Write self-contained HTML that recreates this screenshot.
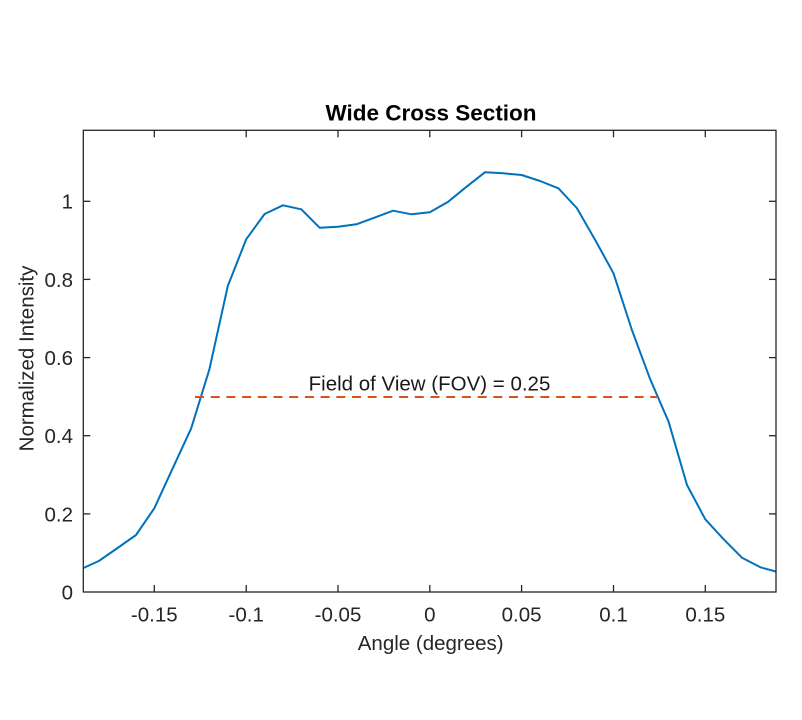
<!DOCTYPE html>
<html>
<head>
<meta charset="utf-8">
<style>
  html, body { margin: 0; padding: 0; background: #ffffff; }
  svg { display: block; }
  text { font-family: "Liberation Sans", Arial, sans-serif; }
</style>
</head>
<body>
<svg width="802" height="720" viewBox="0 0 802 720" xmlns="http://www.w3.org/2000/svg">
  <rect x="0" y="0" width="802" height="720" fill="#ffffff"/>
  <defs>
    <clipPath id="ax">
      <rect x="83.3" y="130.3" width="692.7" height="461.7"/>
    </clipPath>
  </defs>

  <!-- Data curve -->
  <g clip-path="url(#ax)">
    <polyline fill="none" stroke="#0072BD" stroke-width="2" stroke-linejoin="round"
      points="80.8,569.2 98.8,561 117.6,548 136,535 154.3,508.3 172.7,468.3 191.2,428.3 209.4,369.3 227.8,286 246.2,239.3 264.6,214 282.9,205.3 301.3,209.3 319.6,227.7 338,226.8 356.4,224.3 374.7,217.6 393.1,210.7 411.5,214.3 429.8,212.3 448.2,201.7 466.6,186.7 484.9,172.3 503.3,173.3 521.7,175 540,181 558.4,188.3 576.8,208 595.2,240 613.5,273.3 631.9,330 650.2,379.3 668.6,421.7 687,485 705.3,519.3 723.7,539.3 742,557.7 760.4,567.3 778.8,572.3"/>
    <!-- FOV dashed line -->
    <line x1="195" y1="397" x2="658" y2="397" stroke="#D95319" stroke-width="2" stroke-dasharray="9 6.7"/>
  </g>

  <!-- Axes box -->
  <rect x="83.3" y="130.3" width="692.7" height="461.7" fill="none" stroke="#262626" stroke-width="1.3"/>

  <!-- X ticks (bottom and top) -->
  <g stroke="#262626" stroke-width="1.3">
    <line x1="154.3" y1="592" x2="154.3" y2="585"/>
    <line x1="246.2" y1="592" x2="246.2" y2="585"/>
    <line x1="338" y1="592" x2="338" y2="585"/>
    <line x1="429.8" y1="592" x2="429.8" y2="585"/>
    <line x1="521.6" y1="592" x2="521.6" y2="585"/>
    <line x1="613.5" y1="592" x2="613.5" y2="585"/>
    <line x1="705.3" y1="592" x2="705.3" y2="585"/>
    <line x1="154.3" y1="130.3" x2="154.3" y2="137.3"/>
    <line x1="246.2" y1="130.3" x2="246.2" y2="137.3"/>
    <line x1="338" y1="130.3" x2="338" y2="137.3"/>
    <line x1="429.8" y1="130.3" x2="429.8" y2="137.3"/>
    <line x1="521.6" y1="130.3" x2="521.6" y2="137.3"/>
    <line x1="613.5" y1="130.3" x2="613.5" y2="137.3"/>
    <line x1="705.3" y1="130.3" x2="705.3" y2="137.3"/>
    <!-- Y ticks (left and right) -->
    <line x1="83.3" y1="513.9" x2="90.3" y2="513.9"/>
    <line x1="83.3" y1="435.7" x2="90.3" y2="435.7"/>
    <line x1="83.3" y1="357.6" x2="90.3" y2="357.6"/>
    <line x1="83.3" y1="279.4" x2="90.3" y2="279.4"/>
    <line x1="83.3" y1="201.3" x2="90.3" y2="201.3"/>
    <line x1="776" y1="513.9" x2="769" y2="513.9"/>
    <line x1="776" y1="435.7" x2="769" y2="435.7"/>
    <line x1="776" y1="357.6" x2="769" y2="357.6"/>
    <line x1="776" y1="279.4" x2="769" y2="279.4"/>
    <line x1="776" y1="201.3" x2="769" y2="201.3"/>
  </g>

  <!-- X tick labels -->
  <g font-size="20.5" fill="#262626" text-anchor="middle">
    <text x="154.3" y="621.5">-0.15</text>
    <text x="246.2" y="621.5">-0.1</text>
    <text x="338" y="621.5">-0.05</text>
    <text x="429.8" y="621.5">0</text>
    <text x="521.6" y="621.5">0.05</text>
    <text x="613.5" y="621.5">0.1</text>
    <text x="705.3" y="621.5">0.15</text>
  </g>

  <!-- Y tick labels -->
  <g font-size="20.5" fill="#262626" text-anchor="end">
    <text x="73" y="599.4">0</text>
    <text x="73" y="521.3">0.2</text>
    <text x="73" y="443.1">0.4</text>
    <text x="73" y="365">0.6</text>
    <text x="73" y="286.8">0.8</text>
    <text x="73" y="208.7">1</text>
  </g>

  <!-- Title -->
  <text x="431" y="120.5" font-size="22.5" font-weight="bold" fill="#000000" text-anchor="middle">Wide Cross Section</text>

  <!-- Axis labels -->
  <text x="430.7" y="650" font-size="20.5" fill="#262626" text-anchor="middle">Angle (degrees)</text>
  <text x="0" y="0" font-size="20.5" fill="#262626" text-anchor="middle" transform="translate(33.3,358.5) rotate(-90)">Normalized Intensity</text>

  <!-- FOV annotation -->
  <text x="429.5" y="390.5" font-size="20.5" fill="#1a1a1a" text-anchor="middle">Field of View (FOV) = 0.25</text>
</svg>
</body>
</html>
